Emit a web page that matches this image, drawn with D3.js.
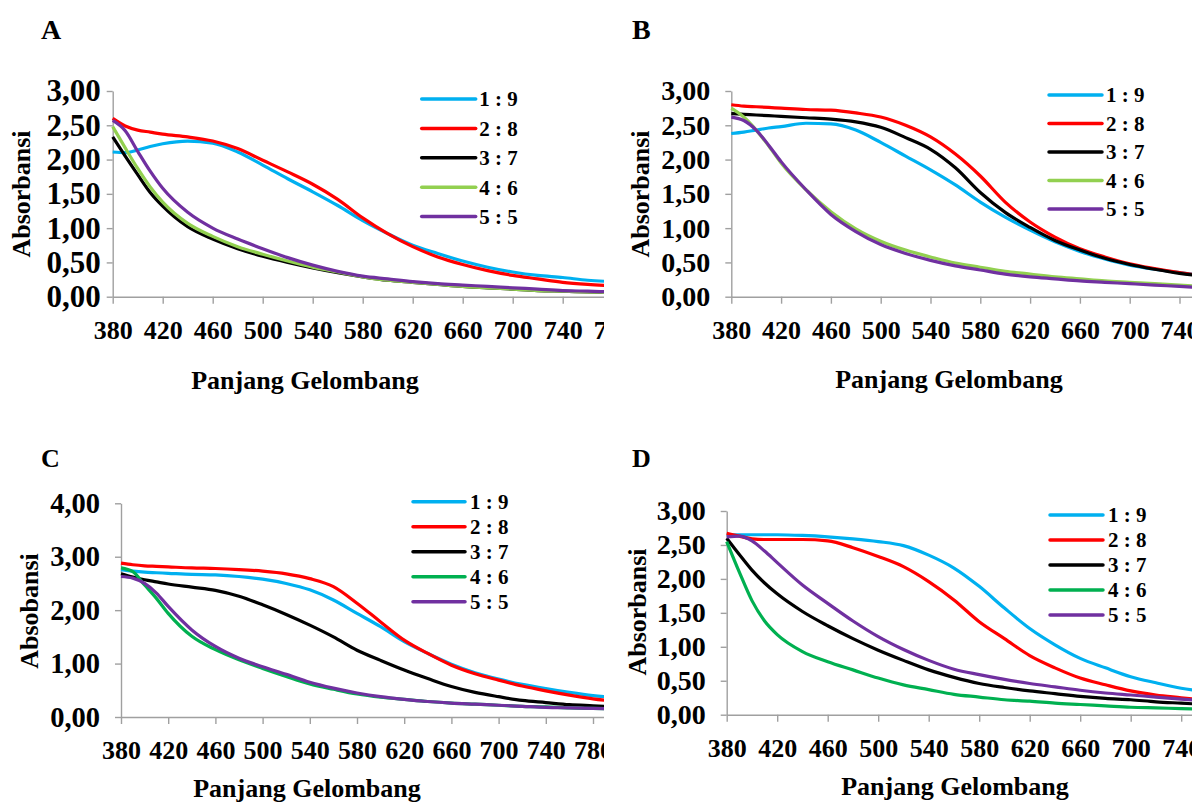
<!DOCTYPE html>
<html><head><meta charset="utf-8">
<script src="https://cdn.jsdelivr.net/npm/d3@7"></script>
<style>
html,body{margin:0;padding:0;background:#fff;}
svg{display:block;}
text{font-family:"Times New Roman","Liberation Serif",serif;font-weight:bold;fill:#000;}
</style></head>
<body>
<svg id="chart" width="1192" height="803"></svg>
<script>
// ---------- DATA ----------
const seriesLabels = ["1 : 9", "2 : 8", "3 : 7", "4 : 6", "5 : 5"];
const xTicks = [380, 420, 460, 500, 540, 580, 620, 660, 700, 740, 780];
const yTicks3 = [0, 0.5, 1, 1.5, 2, 2.5, 3];
const yTicks4 = [0, 1, 2, 3, 4];

// Panel A
const wlA = [380,390,400,410,420,440,460,480,500,520,540,560,580,600,620,640,660,680,700,720,740,760,780];
const a19 = [2.11,2.10,2.14,2.19,2.23,2.27,2.24,2.11,1.92,1.72,1.53,1.33,1.11,0.92,0.75,0.63,0.52,0.43,0.36,0.31,0.28,0.24,0.22];
const a28 = [2.60,2.49,2.43,2.40,2.37,2.33,2.27,2.16,1.99,1.82,1.64,1.42,1.15,0.92,0.73,0.58,0.47,0.38,0.31,0.26,0.21,0.18,0.16];
const a37 = [2.33,2.05,1.78,1.52,1.32,1.02,0.84,0.70,0.59,0.50,0.42,0.35,0.29,0.24,0.21,0.18,0.15,0.13,0.11,0.09,0.08,0.07,0.06];
const a46 = [2.48,2.17,1.87,1.60,1.38,1.07,0.88,0.73,0.62,0.52,0.43,0.36,0.29,0.24,0.21,0.18,0.15,0.13,0.11,0.09,0.08,0.07,0.06];
const a55 = [2.57,2.42,2.12,1.83,1.58,1.23,1.00,0.84,0.70,0.57,0.46,0.37,0.30,0.26,0.22,0.19,0.17,0.15,0.13,0.11,0.09,0.08,0.07];

// Panel B
const wlB = [380,390,400,410,420,440,460,480,500,520,540,560,580,600,620,640,660,680,700,720,740,760];
const b19 = [2.38,2.40,2.43,2.46,2.48,2.53,2.52,2.43,2.25,2.05,1.85,1.63,1.38,1.16,0.97,0.80,0.66,0.55,0.46,0.40,0.35,0.31];
const b28 = [2.80,2.78,2.77,2.76,2.75,2.73,2.72,2.68,2.62,2.50,2.33,2.08,1.76,1.38,1.09,0.87,0.70,0.58,0.48,0.41,0.35,0.30];
const b37 = [2.67,2.66,2.65,2.64,2.63,2.61,2.59,2.55,2.47,2.32,2.15,1.88,1.52,1.23,1.01,0.82,0.68,0.56,0.47,0.40,0.34,0.30];
const b46 = [2.75,2.62,2.43,2.20,1.95,1.56,1.24,0.99,0.81,0.68,0.58,0.49,0.43,0.37,0.33,0.29,0.26,0.23,0.21,0.19,0.17,0.15];
const b55 = [2.62,2.57,2.43,2.21,1.97,1.56,1.20,0.95,0.76,0.63,0.53,0.45,0.39,0.33,0.29,0.26,0.23,0.21,0.19,0.17,0.15,0.13];

// Panel C
const wlC = [380,390,400,410,420,440,460,480,500,520,540,560,580,600,620,640,660,680,700,720,740,760,780,800];
const c19 = [2.76,2.73,2.71,2.70,2.69,2.67,2.66,2.63,2.58,2.50,2.38,2.19,1.94,1.69,1.41,1.19,0.99,0.83,0.71,0.61,0.53,0.46,0.40,0.36];
const c28 = [2.88,2.85,2.83,2.82,2.81,2.79,2.78,2.76,2.73,2.68,2.59,2.44,2.13,1.78,1.44,1.19,0.97,0.81,0.69,0.58,0.49,0.41,0.34,0.29];
const c37 = [2.68,2.62,2.57,2.53,2.49,2.43,2.37,2.26,2.10,1.92,1.72,1.50,1.25,1.06,0.88,0.72,0.57,0.46,0.38,0.31,0.27,0.23,0.21,0.19];
const c46 = [2.79,2.72,2.47,2.22,1.94,1.51,1.26,1.07,0.91,0.76,0.62,0.52,0.43,0.37,0.33,0.29,0.26,0.24,0.22,0.20,0.19,0.17,0.16,0.15];
const c55 = [2.63,2.60,2.50,2.32,2.07,1.63,1.32,1.10,0.94,0.80,0.65,0.54,0.45,0.38,0.33,0.29,0.26,0.24,0.22,0.20,0.18,0.17,0.16,0.15];

// Panel D
const wlD = [380,390,400,410,420,440,460,480,500,520,540,560,580,600,620,640,660,680,700,720,740,760];
const d19 = [2.65,2.65,2.65,2.65,2.65,2.64,2.62,2.59,2.55,2.49,2.35,2.16,1.89,1.57,1.27,1.03,0.83,0.69,0.56,0.47,0.39,0.34];
const d28 = [2.67,2.63,2.59,2.58,2.58,2.58,2.56,2.46,2.33,2.18,1.96,1.69,1.37,1.12,0.87,0.69,0.54,0.44,0.35,0.29,0.25,0.21];
const d37 = [2.60,2.36,2.13,1.94,1.78,1.52,1.31,1.12,0.95,0.80,0.66,0.55,0.46,0.40,0.35,0.31,0.27,0.24,0.22,0.19,0.17,0.15];
const d46 = [2.55,2.10,1.68,1.38,1.18,0.93,0.78,0.66,0.54,0.44,0.37,0.30,0.26,0.22,0.20,0.17,0.15,0.13,0.11,0.10,0.09,0.08];
const d55 = [2.62,2.63,2.56,2.41,2.24,1.91,1.64,1.38,1.15,0.96,0.80,0.67,0.59,0.52,0.46,0.41,0.36,0.32,0.29,0.26,0.23,0.20];

// ---------- STYLE / LAYOUT ----------
const colorsAB = ["#00B0F0", "#FF0000", "#000000", "#92D050", "#7030A0"];
const colorsCD = ["#00B0F0", "#FF0000", "#000000", "#00B050", "#7030A0"];
const FONT = '"Times New Roman","Liberation Serif",serif';

const panels = [
  { letter: "A", wl: wlA, series: [a19,a28,a37,a46,a55], colors: colorsAB,
    clip: [0, 0, 604, 420], x0: 112.7, pxPerNm: 1.25, yTop: 91, yBot: 296.7, yMax: 3, yTicks: yTicks3,
    yPad: 6, yFont: 31, yTitle: "Absorbansi", yTitlePos: [30, 194], xTitlePos: [305, 389],
    letterPos: [41, 39, 28], legend: { x1: 421.7, x2: 475.7, tx: 479.3, y0: 99, dy: 29.4 } },
  { letter: "B", wl: wlB, series: [b19,b28,b37,b46,b55], colors: colorsAB,
    clip: [604, 0, 588, 420], x0: 731.3, pxPerNm: 1.245, yTop: 91, yBot: 296.7, yMax: 3, yTicks: yTicks3,
    yPad: 15, yFont: 28, yTitle: "Absorbansi", yTitlePos: [649, 194], xTitlePos: [949, 388],
    letterPos: [632, 39, 28], legend: { x1: 1049, x2: 1102, tx: 1106, y0: 95, dy: 28.5 } },
  { letter: "C", wl: wlC, series: [c19,c28,c37,c46,c55], colors: colorsCD,
    clip: [0, 420, 604, 383], x0: 121, pxPerNm: 1.18, yTop: 503.3, yBot: 717, yMax: 4, yTicks: yTicks4,
    yPad: 15, yFont: 28.5, yTitle: "Absobansi", yTitlePos: [38, 611], xTitlePos: [307, 797],
    letterPos: [41, 467, 26], legend: { x1: 413, x2: 465, tx: 470, y0: 501.7, dy: 25 } },
  { letter: "D", wl: wlD, series: [d19,d28,d37,d46,d55], colors: colorsCD,
    clip: [604, 420, 588, 383], x0: 726.7, pxPerNm: 1.2625, yTop: 511, yBot: 714.7, yMax: 3, yTicks: yTicks3,
    yPad: 15, yFont: 28, yTitle: "Absorbansi", yTitlePos: [645.5, 612], xTitlePos: [955, 795],
    letterPos: [632, 467, 26], legend: { x1: 1050, x2: 1103, tx: 1108, y0: 515, dy: 25 } }
];

const svg = d3.select("#chart");
const defs = svg.append("defs");
const fmt = v => d3.format(".2f")(v).replace(".", ",");

panels.forEach((p, pi) => {
  const clipId = "clip" + pi;
  defs.append("clipPath").attr("id", clipId).append("rect")
    .attr("x", p.clip[0]).attr("y", p.clip[1]).attr("width", p.clip[2]).attr("height", p.clip[3]);
  const g = svg.append("g").attr("clip-path", `url(#${clipId})`);

  const x = d3.scaleLinear().domain([380, 820]).range([p.x0, p.x0 + 440 * p.pxPerNm]);
  const y = d3.scaleLinear().domain([0, p.yMax]).range([p.yBot, p.yTop]);

  // Y axis
  const yAxis = g.append("g").attr("transform", `translate(${p.x0},0)`)
    .call(d3.axisLeft(y).tickValues(p.yTicks).tickFormat(fmt).tickSize(6).tickSizeOuter(0).tickPadding(p.yPad));
  yAxis.selectAll("path, line").attr("stroke", "#a0a0a0").attr("stroke-width", 1.4);
  yAxis.selectAll("text").style("font-size", p.yFont + "px").style("font-family", FONT)
    .style("font-weight", "bold").attr("fill", "#000");

  // X axis
  const xAxis = g.append("g").attr("transform", `translate(0,${p.yBot})`)
    .call(d3.axisBottom(x).tickValues(xTicks).tickFormat(d3.format("d")).tickSize(7).tickSizeOuter(0).tickPadding(17));
  xAxis.selectAll("path, line").attr("stroke", "#a0a0a0").attr("stroke-width", 1.4);
  xAxis.selectAll("text").style("font-size", "26px").style("font-family", FONT)
    .style("font-weight", "bold").attr("fill", "#000");

  // Lines
  const line = d3.line().x(d => x(d[0])).y(d => y(d[1])).curve(d3.curveMonotoneX);
  p.series.forEach((vals, si) => {
    const pts = p.wl.map((w, i) => [w, vals[i]]);
    g.append("path").datum(pts).attr("d", line)
      .attr("fill", "none").attr("stroke", p.colors[si]).attr("stroke-width", 3.2)
      .attr("stroke-linejoin", "round");
  });

  // Legend
  seriesLabels.forEach((lab, si) => {
    const ly = p.legend.y0 + si * p.legend.dy;
    g.append("line").attr("x1", p.legend.x1).attr("x2", p.legend.x2).attr("y1", ly).attr("y2", ly)
      .attr("stroke", p.colors[si]).attr("stroke-width", 3.5).attr("stroke-linecap", "round");
    g.append("text").attr("x", p.legend.tx).attr("y", ly).attr("dy", "0.35em")
      .style("font-size", "21px").text(lab);
  });

  // Titles
  g.append("text").attr("transform", `translate(${p.yTitlePos[0]},${p.yTitlePos[1]}) rotate(-90)`)
    .attr("text-anchor", "middle").style("font-size", "26px").text(p.yTitle);
  g.append("text").attr("x", p.xTitlePos[0]).attr("y", p.xTitlePos[1])
    .attr("text-anchor", "middle").style("font-size", "26px").text("Panjang Gelombang");
  g.append("text").attr("x", p.letterPos[0]).attr("y", p.letterPos[1])
    .style("font-size", p.letterPos[2] + "px").text(p.letter);
});
</script>
</body></html>
